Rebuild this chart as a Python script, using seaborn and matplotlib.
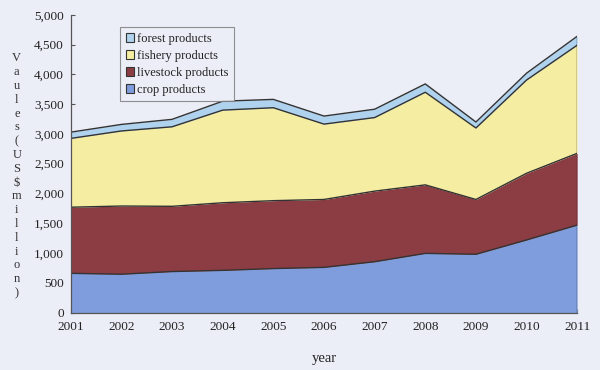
import matplotlib
matplotlib.use("Agg")
import matplotlib.pyplot as plt
import seaborn as sns
import numpy as np
import pandas as pd
from matplotlib.patches import Patch

years = [2001, 2002, 2003, 2004, 2005, 2006, 2007, 2008, 2009, 2010, 2011]
crop = [660, 645, 690, 710, 740, 760, 855, 995, 980, 1220, 1470]
livestock = [1110, 1145, 1095, 1135, 1140, 1140, 1185, 1150, 920, 1120, 1205]
fishery = [1155, 1260, 1335, 1555, 1560, 1265, 1235, 1555, 1200, 1565, 1815]
forest = [105, 110, 125, 150, 140, 135, 140, 140, 100, 115, 150]
series_names = ["crop products", "livestock products", "fishery products", "forest products"]
y_ticks = [0, 500, 1000, 1500, 2000, 2500, 3000, 3500, 4000, 4500, 5000]
ylabel_text = "Vaules(US$million)"

colors = ["#7f9ddd", "#8c3c43", "#f5eda1", "#afd2ef"]
bg = "#eceef7"
txt = "#222222"

sns.set_style("ticks")
plt.rcParams["font.family"] = ["Liberation Serif", "DejaVu Serif"]

df = pd.DataFrame({"year": years, series_names[0]: crop, series_names[1]: livestock,
                   series_names[2]: fishery, series_names[3]: forest})
cum = df[series_names].cumsum(axis=1)

fig = plt.figure(figsize=(6.0, 3.7), dpi=100, facecolor=bg)
ax = fig.add_axes([0.118, 0.155, 0.844, 0.805])
ax.set_facecolor(bg)

lower = np.zeros(len(years))
for name, col in zip(series_names, colors):
    upper = cum[name].values
    ax.fill_between(years, lower, upper, color=col, linewidth=0)
    lower = upper
long = cum.assign(year=years).melt(id_vars="year", var_name="series", value_name="cum")
sns.lineplot(data=long, x="year", y="cum", units="series", estimator=None,
             color="#333333", linewidth=1.0, ax=ax, legend=False)
ax.vlines(years[-1], 0, cum[series_names[-1]].values[-1], color="#333333", linewidth=1.0)

ax.set_xlim(years[0], years[-1])
ax.set_ylim(0, 5000)
ax.set_xticks(years)
ax.set_xticklabels([str(y) for y in years], fontsize=9.5, color=txt)
ax.set_yticks(y_ticks)
ax.set_yticklabels([f"{v:,}" for v in y_ticks], fontsize=9.5, color=txt)
ax.tick_params(direction="in", length=3, color="#555555")
ax.tick_params(axis="x", pad=6)
ax.tick_params(axis="y", pad=5)
for s in ["top", "right"]:
    ax.spines[s].set_visible(False)
for s in ["left", "bottom"]:
    ax.spines[s].set_color("#555555")
    ax.spines[s].set_linewidth(0.9)

ax.set_xlabel("year", fontsize=10.5, labelpad=14, color=txt)
ax.set_ylabel("")
fig.text(0.028, 0.525, "\n".join(ylabel_text), fontsize=9, ha="center", va="center",
         linespacing=1.2, color="#333333")

handles = [Patch(facecolor=c, edgecolor="#333333", linewidth=0.8, label=n)
           for n, c in zip(series_names, colors)][::-1]
leg = ax.legend(handles=handles, loc="upper left", bbox_to_anchor=(0.085, 0.98),
                fontsize=9, frameon=True, fancybox=False, handlelength=0.7, handleheight=0.7,
                handletextpad=0.2, labelspacing=0.4, borderpad=0.45, labelcolor=txt)
leg.get_frame().set_edgecolor("#777777")
leg.get_frame().set_facecolor(bg)
leg.get_frame().set_linewidth(0.8)

fig.savefig("out.png", dpi=100, facecolor=bg)
